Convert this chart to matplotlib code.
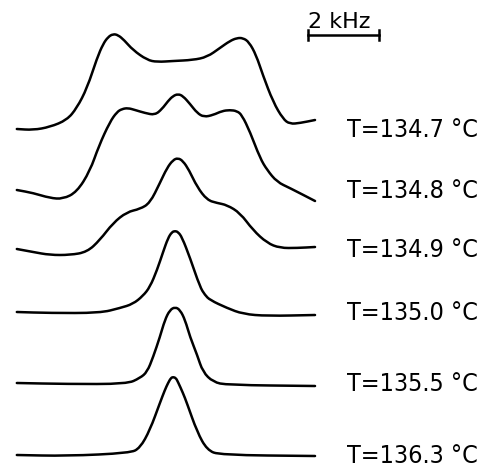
import matplotlib.pyplot as plt
import numpy as np
from matplotlib.path import Path
from matplotlib.patches import PathPatch

plt.rcParams['font.family'] = ['DejaVu Sans']

# temperatures of the spectra, top to bottom
labels = ['T=134.7 °C', 'T=134.8 °C', 'T=134.9 °C',
          'T=135.0 °C', 'T=135.5 °C', 'T=136.3 °C']

# vertical offsets of each baseline in the stack
offsets = [338, 277, 218, 155, 84, 12]

# frequency (kHz) and intensity (a.u.) for each spectrum
freq_1 = [-4.54, -4.08, -3.61, -3.13, -2.85, -2.56, -2.28, -2.11, -1.97, -1.83, -1.69,
          -1.52, -1.27, -0.87, -0.59, -0.14, 0.42, 0.82, 1.18, 1.46, 1.66, 1.83, 2.00,
          2.20, 2.39, 2.68, 2.96, 3.15, 3.44, 3.86]
int_1 = [0, -1, 2, 9, 21, 41, 71, 85, 92, 95, 94, 89, 79, 69, 67, 68, 69, 72, 81, 88,
         91, 91, 87, 74, 54, 27, 10, 5, 6, 9]

freq_2 = [-4.54, -4.08, -3.61, -3.24, -2.85, -2.48, -2.23, -1.92, -1.72, -1.58, -1.41,
          -1.21, -0.93, -0.65, -0.45, -0.28, -0.14, 0.00, 0.14, 0.34, 0.54, 0.73, 0.99,
          1.24, 1.46, 1.66, 1.80, 2.03, 2.31, 2.51, 2.79, 3.15, 3.86]
int_2 = [0, -3, -8, -9, -2, 19, 44, 68, 78, 81, 82, 80, 77, 75, 81, 89, 94, 96, 94,
         86, 77, 73, 75, 79, 80, 79, 75, 58, 32, 20, 8, 2, -11]

freq_3 = [-4.54, -4.08, -3.61, -3.04, -2.56, -2.20, -1.83, -1.44, -1.07, -0.79, -0.51,
          -0.31, -0.14, 0.00, 0.14, 0.31, 0.54, 0.82, 1.10, 1.38, 1.75, 2.11, 2.51,
          2.87, 3.35, 3.86]
int_3 = [0, -3, -6, -6, -3, 9, 26, 37, 40, 46, 66, 81, 89, 91, 88, 79, 62, 49, 46, 44,
         36, 19, 6, 1, 1, 2]

freq_4 = [-4.54, -3.61, -2.20, -1.63, -1.27, -0.99, -0.79, -0.59, -0.42, -0.28, -0.17,
          -0.08, 0.00, 0.11, 0.34, 0.62, 0.76, 0.90, 1.38, 1.83, 2.51, 3.86]
int_4 = [0, -1, -1, 4, 8, 16, 25, 42, 60, 74, 80, 81, 80, 75, 54, 25, 17, 12, 4, -2,
         -4, -3]

freq_5 = [-4.54, -3.13, -1.44, -1.07, -0.87, -0.70, -0.51, -0.37, -0.23, -0.08, 0.06,
          0.20, 0.34, 0.54, 0.70, 0.99, 1.38, 3.86]
int_5 = [0, -1, -1, 5, 11, 26, 46, 63, 73, 76, 73, 63, 46, 28, 11, 1, -2, -3]

freq_6 = [-4.54, -3.13, -1.35, -1.07, -0.79, -0.51, -0.37, -0.28, -0.20, -0.14, -0.06,
          0.00, 0.14, 0.25, 0.54, 0.82, 1.18, 3.86]
int_6 = [0, -1, 2, 7, 25, 52, 65, 72, 77, 78, 77, 73, 62, 52, 23, 5, 0, -1]

spectra = [(freq_1, int_1), (freq_2, int_2), (freq_3, int_3),
           (freq_4, int_4), (freq_5, int_5), (freq_6, int_6)]


def smooth_path(x, y):
    # quadratic bezier through the midpoints, the samples act as control points
    pts = np.column_stack([x, y])
    mids = (pts[:-1] + pts[1:]) / 2
    verts = [pts[0], mids[0]]
    codes = [Path.MOVETO, Path.LINETO]
    for i in range(1, len(pts) - 1):
        verts += [pts[i], mids[i]]
        codes += [Path.CURVE3, Path.CURVE3]
    verts.append(pts[-1])
    codes.append(Path.LINETO)
    return Path(verts, codes)


fig = plt.figure(figsize=(4.8, 4.67), dpi=100)
ax = fig.add_axes([0, 0, 1, 1])

for (f, s), off, lab in zip(spectra, offsets, labels):
    patch = PathPatch(smooth_path(f, np.array(s) + off), fill=False,
                      edgecolor='black', lw=1.8, capstyle='round', joinstyle='round')
    ax.add_patch(patch)
    ax.text(4.75, off - 8, lab, fontsize=18, fontstretch='condensed',
            va='baseline', ha='left')

# 2 kHz scale bar
bar_x = 3.66
bar_y = 432
ax.plot([bar_x, bar_x + 2], [bar_y, bar_y], color='black', lw=1.8)
for xb in (bar_x, bar_x + 2):
    ax.plot([xb, xb], [bar_y - 5, bar_y + 5], color='black', lw=1.8)
ax.text(bar_x, 439, '2 kHz', fontsize=16, va='baseline', ha='left')

ax.set_xlim(-5.014, 8.507)
ax.set_ylim(0, 467)
ax.axis('off')

fig.savefig('out.png', dpi=100, facecolor='white')
